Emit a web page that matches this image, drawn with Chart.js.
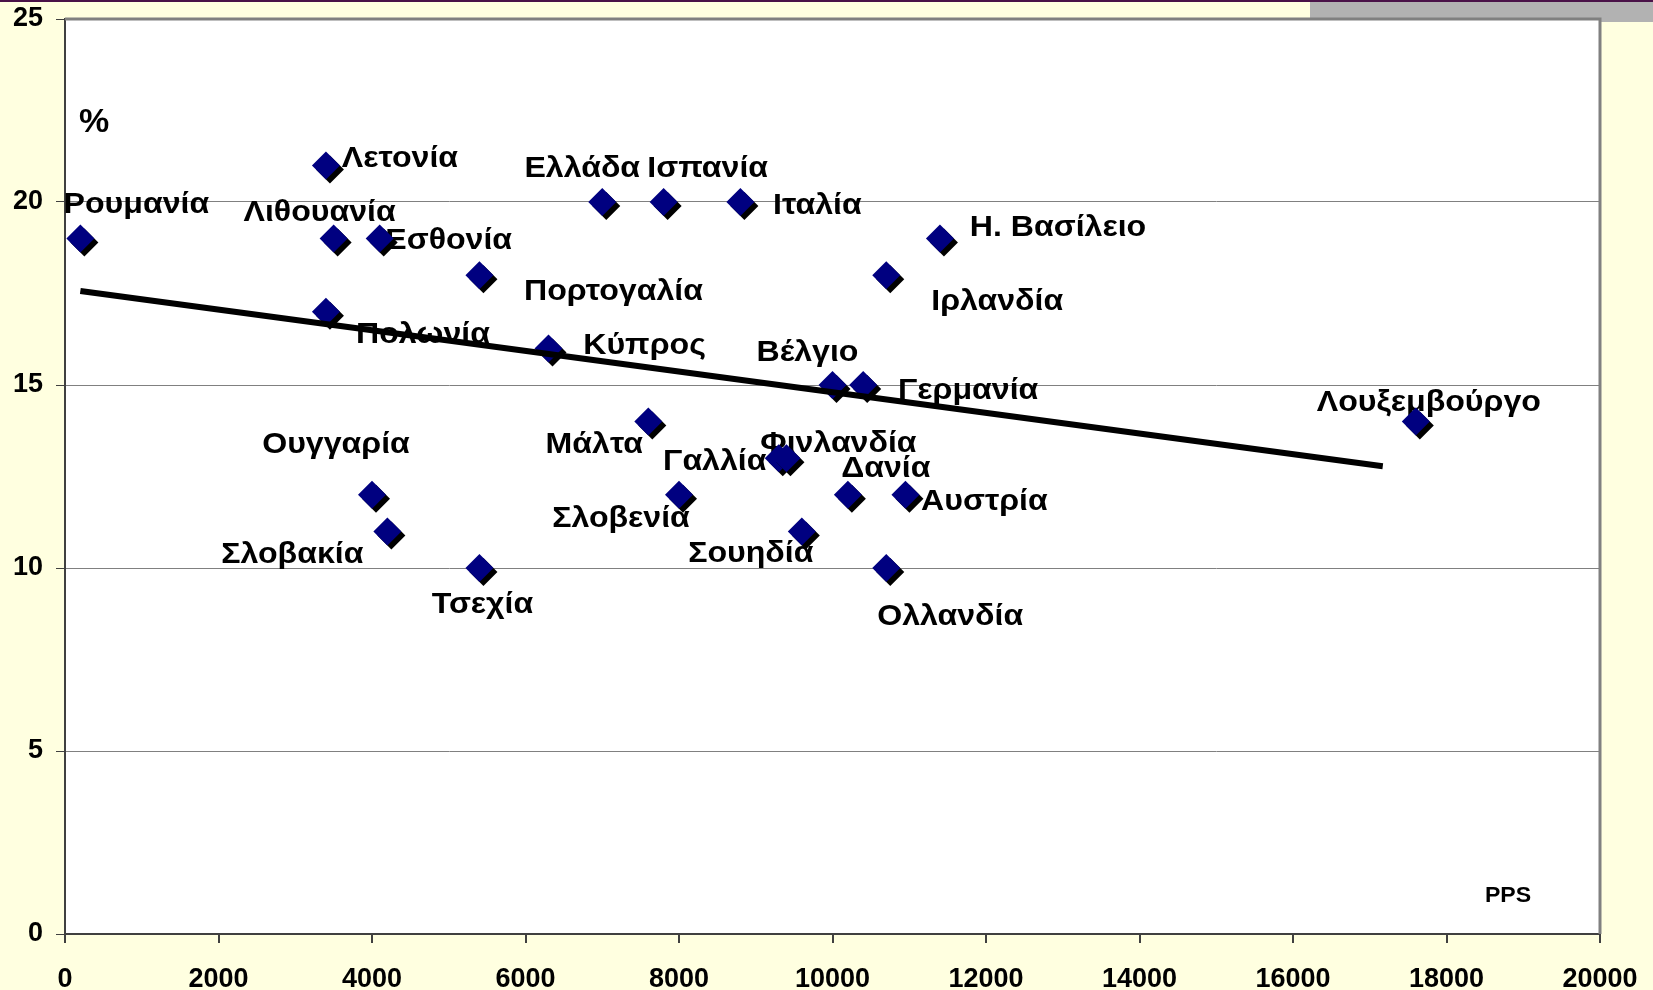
<!DOCTYPE html>
<html>
<head>
<meta charset="utf-8">
<script src="https://cdn.jsdelivr.net/npm/chart.js@4/dist/chart.umd.min.js"></script>
<style>
  html, body { margin: 0; padding: 0; background: #FFFFE0; }
  #wrap { width: 1653px; height: 990px; position: relative; }
</style>
</head>
<body>
<div id="wrap"><canvas id="myChart" width="1653" height="990"></canvas></div>
<script>
// data
let countries = ['Ρουμανία', 'Λετονία', 'Λιθουανία', 'Εσθονία', 'Πολωνία', 'Ουγγαρία', 'Σλοβακία', 'Τσεχία',
  'Πορτογαλία', 'Κύπρος', 'Ελλάδα', 'Ισπανία', 'Ιταλία', 'Μάλτα', 'Σλοβενία', 'Γαλλία', 'Φινλανδία',
  'Σουηδία', 'Βέλγιο', 'Γερμανία', 'Δανία', 'Αυστρία', 'Ολλανδία', 'Ιρλανδία', 'Η. Βασίλειο', 'Λουξεμβούργο'];
let ppsArr = [200, 3400, 3500, 4100, 3400, 4000, 4200, 5400,
  5400, 6300, 7000, 7800, 8800, 7600, 8000, 9300, 9400,
  9600, 10000, 10400, 10200, 10950, 10700, 10700, 11400, 17600];
let pctArr = [19, 21, 19, 19, 17, 12, 11, 10,
  18, 16, 20, 20, 20, 14, 12, 13, 13,
  11, 15, 15, 12, 12, 10, 18, 19, 14];
let trendX = [200, 17170];
let trendY = [17.57, 12.78];
let xTicks = [0, 2000, 4000, 6000, 8000, 10000, 12000, 14000, 16000, 18000, 20000];
let yTicks = [0, 5, 10, 15, 20, 25];

// where each name sits relative to its marker (pixels)
let labelOffsets = {
  'Ρουμανία': [56, -34], 'Λετονία': [74, -7], 'Λιθουανία': [-14, -26], 'Εσθονία': [69, 2],
  'Πολωνία': [97, 23], 'Ουγγαρία': [-36, -50], 'Σλοβακία': [-95, 23], 'Τσεχία': [3, 37],
  'Πορτογαλία': [134, 17], 'Κύπρος': [96, -3], 'Ελλάδα': [-20, -33], 'Ισπανία': [44, -33],
  'Ιταλία': [77, 4], 'Μάλτα': [-54, 23], 'Σλοβενία': [-58, 24], 'Γαλλία': [-64, 4],
  'Φινλανδία': [52, -14], 'Σουηδία': [-51, 22], 'Βέλγιο': [-25, -32], 'Γερμανία': [105, 6],
  'Δανία': [38, -26], 'Αυστρία': [79, 7], 'Ολλανδία': [64, 49], 'Ιρλανδία': [111, 27],
  'Η. Βασίλειο': [118, -11], 'Λουξεμβούργο': [13, -19]
};

let points = [];
for (let i = 0; i < countries.length; i++) {
  points.push({ x: ppsArr[i], y: pctArr[i] });
}
let trend = [];
for (let i = 0; i < trendX.length; i++) {
  trend.push({ x: trendX[i], y: trendY[i] });
}

const FONT = "'Liberation Sans', Arial, sans-serif";

// text a bit wider than normal, like the slide
function wideText(ctx, txt, x, y, stretch) {
  ctx.save();
  ctx.translate(x, y);
  ctx.scale(stretch, 1);
  ctx.fillText(txt, 0, 0);
  ctx.restore();
}

// slide background, plot frame, names
const decor = {
  id: 'decor',
  beforeDraw(chart) {
    let ctx = chart.ctx;
    let a = chart.chartArea;
    ctx.save();
    ctx.fillStyle = '#FFFFE0';
    ctx.fillRect(0, 0, chart.width, chart.height);
    ctx.fillStyle = '#B2B2B2';
    ctx.fillRect(1310, 1, chart.width - 1310, 21);
    ctx.fillStyle = '#4A1248';
    ctx.fillRect(0, 0, chart.width, 2);
    ctx.fillStyle = '#FFFFFF';
    ctx.fillRect(a.left, a.top, a.right - a.left, a.bottom - a.top);
    ctx.restore();
  },
  beforeDatasetsDraw(chart) {
    let ctx = chart.ctx;
    let a = chart.chartArea;
    let xs = chart.scales.x;
    let ys = chart.scales.y;
    ctx.save();
    ctx.strokeStyle = '#808080';
    ctx.lineWidth = 3;
    ctx.beginPath();
    ctx.moveTo(a.left, a.top);
    ctx.lineTo(a.right, a.top);
    ctx.lineTo(a.right, a.bottom);
    ctx.stroke();

    ctx.fillStyle = '#000';
    ctx.textAlign = 'center';
    ctx.textBaseline = 'middle';
    ctx.font = 'bold 30px ' + FONT;
    for (let i = 0; i < countries.length; i++) {
      let off = labelOffsets[countries[i]];
      wideText(ctx, countries[i], xs.getPixelForValue(ppsArr[i]) + off[0], ys.getPixelForValue(pctArr[i]) + off[1], 1.07);
    }
    ctx.font = 'bold 34px ' + FONT;
    ctx.fillText('%', a.left + 29, a.top + 104);
    ctx.font = 'bold 22px ' + FONT;
    wideText(ctx, 'PPS', a.right - 92, a.bottom - 38, 1.05);
    ctx.restore();
  },
  beforeDatasetDraw(chart, args) {
    if (args.index !== 1) return;
    let ctx = chart.ctx;
    ctx.save();
    ctx.shadowColor = '#000';
    ctx.shadowOffsetX = 4;
    ctx.shadowOffsetY = 4;
    ctx.shadowBlur = 0;
  },
  afterDatasetDraw(chart, args) {
    if (args.index !== 1) return;
    chart.ctx.restore();
  }
};

const config = {
  type: 'scatter',
  data: {
    datasets: [
      {
        type: 'line',
        label: 'trend',
        data: trend,
        borderColor: '#000',
        borderWidth: 6,
        pointRadius: 0,
        fill: false,
        order: 0
      },
      {
        label: 'countries',
        data: points,
        pointStyle: 'rectRot',
        pointRadius: 14,
        pointHoverRadius: 14,
        backgroundColor: '#000080',
        borderColor: '#000080',
        borderWidth: 0,
        order: 1
      }
    ]
  },
  options: {
    responsive: false,
    animation: false,
    devicePixelRatio: 1,
    layout: { padding: { top: 19, right: 53, left: 0, bottom: 0 } },
    plugins: {
      legend: { display: false },
      tooltip: { enabled: false }
    },
    scales: {
      x: {
        type: 'linear',
        min: 0,
        max: 20000,
        afterBuildTicks: s => { s.ticks = xTicks.map(v => ({ value: v })); },
        afterFit: s => { s.height = 56; s.paddingLeft = 0; s.paddingRight = 0; },
        grid: { drawOnChartArea: false, drawTicks: true, tickLength: 9, color: '#404040', lineWidth: 2 },
        border: { color: '#404040', width: 2 },
        ticks: {
          color: '#000',
          padding: 20,
          maxRotation: 0,
          callback: v => String(v),
          font: { family: FONT, size: 27, weight: 'bold' }
        }
      },
      y: {
        min: 0,
        max: 25,
        afterBuildTicks: s => { s.ticks = yTicks.map(v => ({ value: v })); },
        afterFit: s => { s.width = 65; s.paddingTop = 0; s.paddingBottom = 0; },
        grid: { color: '#808080', lineWidth: 1, tickLength: 9, tickColor: '#404040' },
        border: { color: '#404040', width: 2 },
        ticks: {
          color: '#000',
          padding: 13,
          font: { family: FONT, size: 27, weight: 'bold' }
        }
      }
    }
  },
  plugins: [decor]
};

var myChart = new Chart(document.getElementById('myChart'), config);
</script>
</body>
</html>
